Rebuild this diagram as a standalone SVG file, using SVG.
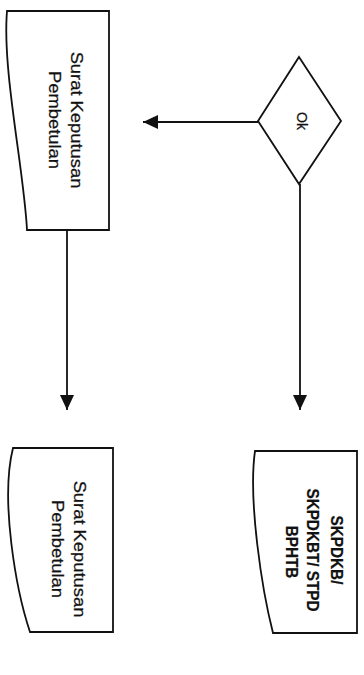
<svg xmlns="http://www.w3.org/2000/svg" width="364" height="675" viewBox="0 0 364 675">
  <style>
    .shape { fill: #ffffff; stroke: #111111; stroke-width: 1.8; stroke-linejoin: miter; }
    .edge { fill: none; stroke: #111111; stroke-width: 1.8; }
    .label { font-family: "Liberation Sans", Arial, sans-serif; fill: #111111; text-anchor: middle; stroke: #111111; stroke-width: 0.25; }
    .doc { font-size: 17px; }
    .bold { font-size: 17px; font-weight: bold; }
    .small { font-size: 14px; }
  </style>
  <defs>
    <marker id="arrow" markerUnits="userSpaceOnUse" markerWidth="16" markerHeight="14" refX="15" refY="7" orient="auto">
      <path d="M0,0 L15,7 L0,14 Z" fill="#111111"/>
    </marker>
  </defs>
  <rect width="364" height="675" fill="#ffffff"/>

  <!-- connectors -->
  <g id="connectors">
    <line class="edge" x1="258" y1="122" x2="143" y2="122" marker-end="url(#arrow)"/>
    <line class="edge" x1="67" y1="230" x2="67" y2="410" marker-end="url(#arrow)"/>
    <line class="edge" x1="300" y1="184" x2="300" y2="410" marker-end="url(#arrow)"/>
  </g>

  <!-- document: Surat Keputusan Pembetulan (top) -->
  <g id="doc-top">
    <path class="shape" d="M7,11 L109,11 L109,230 L27,230 C24,170 2,70 7,11 Z"/>
    <text class="label doc" transform="translate(71,120) rotate(90) scale(1.08,1)">Surat Keputusan</text>
    <text class="label doc" transform="translate(49,120) rotate(90) scale(1.08,1)">Pembetulan</text>
  </g>

  <!-- decision: Ok -->
  <g id="decision-ok">
    <path class="shape" d="M299,57 L341,121 L299,184 L258,121 Z"/>
    <text class="label small" transform="translate(297,121) rotate(90)">Ok</text>
  </g>

  <!-- document: Surat Keputusan Pembetulan (bottom) -->
  <g id="doc-bottom-left">
    <path class="shape" d="M13,448 L113,448 L113,632 L30,632 C16,590 0,500 13,448 Z"/>
    <text class="label doc" transform="translate(74,549) rotate(90) scale(1.08,1)">Surat Keputusan</text>
    <text class="label doc" transform="translate(52,549) rotate(90) scale(1.08,1)">Pembetulan</text>
  </g>

  <!-- document: SKPDKB / SKPDKBT / STPD BPHTB -->
  <g id="doc-bottom-right">
    <path class="shape" d="M255,451 L357,451 L357,633 L273,633 C262,590 248,500 255,451 Z"/>
    <text class="label bold" transform="translate(331,550) rotate(90) scale(0.9,1)">SKPDKB/</text>
    <text class="label bold" transform="translate(307,550) rotate(90) scale(0.9,1)">SKPDKBT/ STPD</text>
    <text class="label bold" transform="translate(286,552) rotate(90) scale(0.9,1)">BPHTB</text>
  </g>
</svg>
